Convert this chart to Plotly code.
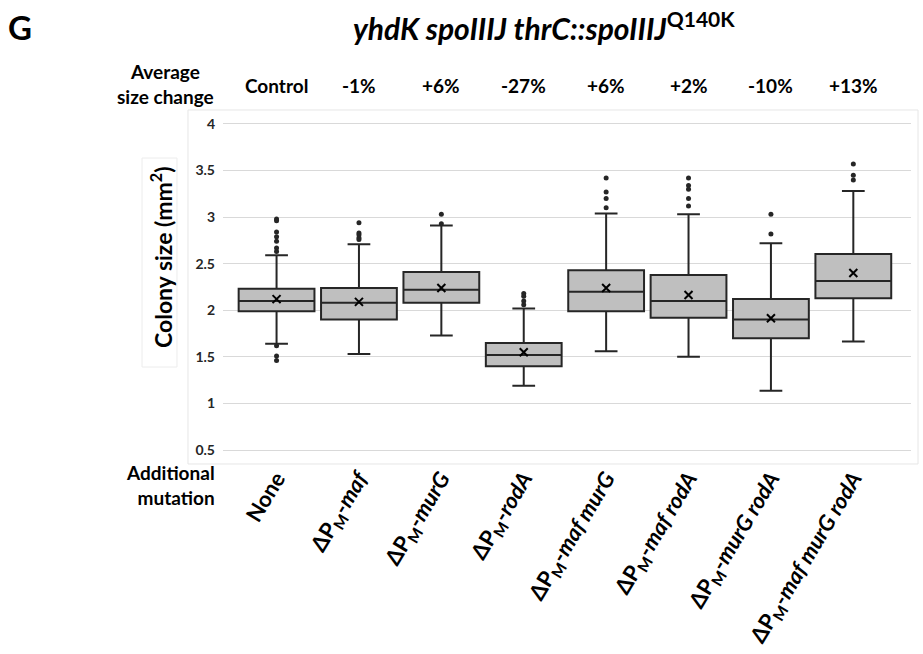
import plotly.graph_objects as go

# Strains (additional mutation) and summary statistics of colony size (mm^2)
strains = [
    "<b>None</b>",
    "<b>ΔP<sub>M</sub>-<i>maf</i></b>",
    "<b>ΔP<sub>M</sub>-<i>murG</i></b>",
    "<b>ΔP<sub>M</sub>-<i>rodA</i></b>",
    "<b>ΔP<sub>M</sub>-<i>maf murG</i></b>",
    "<b>ΔP<sub>M</sub>-<i>maf rodA</i></b>",
    "<b>ΔP<sub>M</sub>-<i>murG rodA</i></b>",
    "<b>ΔP<sub>M</sub>-<i>maf murG rodA</i></b>",
]
size_change = ["Control", "-1%", "+6%", "-27%", "+6%", "+2%", "-10%", "+13%"]

q1 = [1.99, 1.90, 2.08, 1.40, 1.99, 1.92, 1.70, 2.13]
median = [2.10, 2.08, 2.22, 1.52, 2.20, 2.10, 1.90, 2.315]
q3 = [2.23, 2.24, 2.41, 1.65, 2.43, 2.38, 2.12, 2.605]
lower_whisker = [1.64, 1.53, 1.73, 1.19, 1.56, 1.50, 1.135, 1.665]
upper_whisker = [2.59, 2.71, 2.91, 2.02, 3.04, 3.03, 2.72, 3.28]
mean = [2.12, 2.09, 2.24, 1.55, 2.24, 2.165, 1.915, 2.40]
outliers = [
    [2.98, 2.96, 2.84, 2.79, 2.74, 2.67, 2.63, 1.62, 1.51, 1.46],
    [2.94, 2.83, 2.81, 2.78, 2.76],
    [3.03, 2.93],
    [2.18, 2.15, 2.10, 2.06],
    [3.42, 3.27, 3.20, 3.10],
    [3.42, 3.34, 3.30, 3.20, 3.12],
    [3.03, 2.82],
    [3.57, 3.45, 3.40],
]

y_ticks = [0.5, 1, 1.5, 2, 2.5, 3, 3.5, 4]

FONT = "Lato"
INK = "#262626"
positions = list(range(len(strains)))

fig = go.Figure()

fig.add_trace(go.Box(
    x=positions,
    q1=q1, median=median, q3=q3,
    lowerfence=lower_whisker, upperfence=upper_whisker,
    width=0.92, whiskerwidth=0.3,
    fillcolor="#bfbfbf",
    line=dict(color=INK, width=2),
    boxpoints=False,
    showlegend=False,
    hoverinfo="skip",
))

# outlying colonies
ox, oy = [], []
for i, pts in enumerate(outliers):
    ox += [i] * len(pts)
    oy += pts
fig.add_trace(go.Scatter(
    x=ox, y=oy, mode="markers",
    marker=dict(symbol="circle", size=5, color=INK),
    showlegend=False, hoverinfo="skip",
))

# means
fig.add_trace(go.Scatter(
    x=positions, y=mean, mode="markers",
    marker=dict(symbol="x-thin", size=8, line=dict(color="black", width=2)),
    showlegend=False, hoverinfo="skip",
))

fig.update_layout(
    width=923, height=654,
    margin=dict(l=223, r=12, t=124, b=204),
    paper_bgcolor="white", plot_bgcolor="white",
    font=dict(family=FONT, color="black"),
    xaxis=dict(
        range=[-0.65, 7.7], automargin=False,
        tickmode="array", tickvals=positions, ticktext=strains,
        tickangle=-59, tickfont=dict(size=22, color="black", family=FONT, weight=900),
        showgrid=False, zeroline=False,
        showline=True, linecolor="#d9d9d9", linewidth=1, mirror=True,
        ticks="", ticklabelstandoff=6,
    ),
    yaxis=dict(
        range=[0.5, 4], automargin=False, tickmode="array", tickvals=y_ticks,
        ticktext=[f"<b>{v:g}</b>" for v in y_ticks],
        tickfont=dict(size=14, color="#262626", family=FONT, weight=900),
        showgrid=True, gridcolor="#d9d9d9", gridwidth=1,
        zeroline=False, showline=False, ticks="", ticklabelstandoff=7,
    ),
)

# chart frame and y-title box
fig.add_shape(type="rect", xref="paper", yref="paper",
              x0=-0.0509, x1=1.0102, y0=-0.0429, y1=1.043,
              line=dict(color="#e6e6e6", width=1), fillcolor="rgba(0,0,0,0)", layer="below")
fig.add_shape(type="rect", xref="paper", yref="paper",
              x0=-0.1177, x1=-0.0669, y0=0.2546, y1=0.8957,
              line=dict(color="#ececec", width=1), fillcolor="white", layer="below")

ann = []
ann.append(dict(text="<b>G</b>", xref="paper", yref="paper", x=-0.295, y=1.2975,
                xanchor="center", yanchor="middle", showarrow=False,
                font=dict(size=33, family=FONT, color="black", weight=900)))
ann.append(dict(text="<b><i>yhdK spoIIIJ thrC::spoIIIJ</i><sup>Q140K</sup></b>",
                xref="paper", yref="paper", x=0.4665, y=1.30,
                xanchor="center", yanchor="middle", showarrow=False,
                font=dict(size=30, family=FONT, color="black", weight=900)))
ann.append(dict(text="<b>Average<br>size change</b>", xref="paper", yref="paper",
                x=-0.0843, y=1.1227, xanchor="center", yanchor="middle", align="center",
                showarrow=False, font=dict(size=19, family=FONT, color="black", weight=900)))
for i, lab in enumerate(size_change):
    ann.append(dict(text=f"<b>{lab}</b>", xref="x", yref="paper", x=i, y=1.1166,
                    xanchor="center", yanchor="middle", showarrow=False,
                    font=dict(size=19, family=FONT, color="black", weight=900)))
ann.append(dict(text="<b>Additional<br>mutation</b>", xref="paper", yref="paper",
                x=-0.0087, y=-0.107, xanchor="right", yanchor="middle", align="right",
                showarrow=False, font=dict(size=19, family=FONT, color="black", weight=900)))
ann.append(dict(text="<b>Colony size (mm<sup>2</sup>)</b>", xref="paper", yref="paper",
                x=-0.0901, y=0.592, textangle=-90, xanchor="center", yanchor="middle",
                showarrow=False, font=dict(size=23, family=FONT, color="black", weight=900)))
fig.update_layout(annotations=ann)

fig.write_html("out.html")
